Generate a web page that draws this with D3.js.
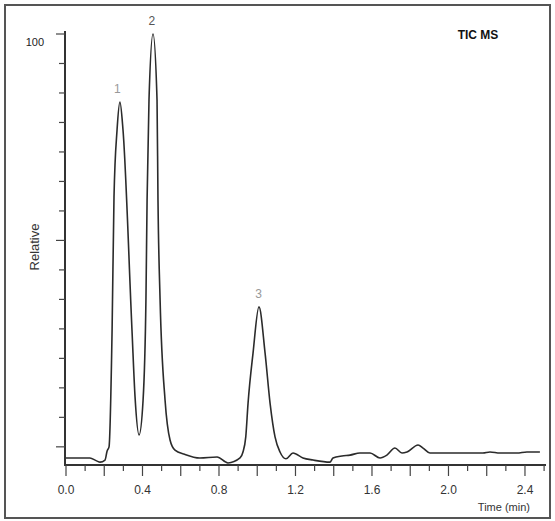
<!DOCTYPE html>
<html>
<head>
<meta charset="utf-8">
<script src="https://cdn.jsdelivr.net/npm/d3@7"></script>
<style>
body{margin:0;background:#fff;}
text{font-family:"Liberation Sans",Arial,sans-serif;fill:#333;}
</style>
</head>
<body>
<div class="chart"></div>
<script>
// retention time (min)
var times=[0.00,0.06,0.125,0.16,0.178,0.204,0.215,0.225,0.241,0.251,0.267,0.282,0.298,0.345,0.361,0.382,
	0.403,0.418,0.424,0.434,0.455,0.476,0.481,0.492,0.518,0.544,0.57,0.62,0.70,0.79,0.847,0.91,0.925,0.94,
	0.952,0.978,1.009,1.041,1.067,1.093,1.119,1.15,1.187,1.239,1.292,1.38,1.396,1.443,1.485,1.537,
	1.59,1.642,1.678,1.72,1.757,1.783,1.841,1.867,1.903,1.971,2.18,2.217,2.269,2.358,2.41,2.478];
// relative abundance (%)
var intensity=[-2.7,-2.7,-2.7,-3.4,-3.7,-3.2,-1.0,0.0,28.3,60.5,76.8,83.5,76.8,28.3,12.1,2.9,
	11.3,35.6,59.8,84.0,100,84.0,59.8,35.6,11.3,1.66,-0.8,-1.8,-2.7,-2.46,-3.9,-2.7,-1.3,2.4,
	10.6,22.7,33.9,22.7,10.6,2.4,-1.25,-2.9,-1.5,-2.7,-3.2,-3.7,-2.7,-2.2,-2.0,-1.5,
	-1.5,-2.7,-2.0,-0.3,-1.5,-1.25,0.45,-0.3,-1.5,-1.5,-1.5,-1.25,-1.5,-1.5,-1.25,-1.25];
var peakNames=["1","2","3"];
var peakTimes=[0.268,0.449,1.007];
var peakTops=[83.5,100,33.9];
var xLabelTicks=[0.0,0.4,0.8,1.2,1.6,2.0,2.4];

var width=555,height=521;
var svg=d3.select('div.chart')
		.append('svg')
		.attr('width',width)
		.attr('height',height);

//外框
svg.append('rect')
	.attr('x',5).attr('y',5)
	.attr('width',545).attr('height',513)
	.attr('fill','none')
	.attr('stroke','#555')
	.attr('stroke-width',2);

var x=d3.scaleLinear().domain([0,2.5]).range([66,544.1]);
var y=d3.scaleLinear().domain([-4.4,100]).range([465,34]);

//x轴
var xMinor=d3.range(0,26).map(function(i){return i/10;});
svg.append('line')
	.attr('x1',64).attr('x2',546)
	.attr('y1',465).attr('y2',465)
	.attr('stroke','#333').attr('stroke-width',2);
svg.selectAll('line.xt')
	.data(xMinor)
	.enter()
	.append('line')
	.attr('class','xt')
	.attr('x1',function(d){return x(d);})
	.attr('x2',function(d){return x(d);})
	.attr('y1',465)
	.attr('y2',function(d,i){return i%2==0?476:471;})
	.attr('stroke','#444').attr('stroke-width',1.2);
svg.selectAll('text.xl')
	.data(xLabelTicks)
	.enter()
	.append('text')
	.attr('class','xl')
	.attr('x',function(d){return x(d);})
	.attr('y',494)
	.attr('text-anchor','middle')
	.style('font-size','12px')
	.text(function(d){return d.toFixed(1);});
svg.append('text')
	.attr('x',530).attr('y',511)
	.attr('text-anchor','end')
	.style('font-size','11px')
	.text('Time (min)');

//y轴
var yTicks=d3.range(0,15).map(function(k){return k*100/14;});
svg.append('line')
	.attr('x1',65).attr('x2',65)
	.attr('y1',31).attr('y2',466)
	.attr('stroke','#333').attr('stroke-width',2);
svg.selectAll('line.yt')
	.data(yTicks)
	.enter()
	.append('line')
	.attr('class','yt')
	.attr('x1',65)
	.attr('x2',function(d,i){return i%7==0?56:59;})
	.attr('y1',function(d){return y(d);})
	.attr('y2',function(d){return y(d);})
	.attr('stroke','#444').attr('stroke-width',1.2);
svg.append('text')
	.attr('x',44).attr('y',46)
	.attr('text-anchor','end')
	.style('font-size','11px')
	.style('fill','#222')
	.text('100');
svg.append('text')
	.attr('transform','translate(39,247) rotate(-90)')
	.attr('text-anchor','middle')
	.style('font-size','13px')
	.text('Relative');

//曲线
var pts=times.map(function(t,i){return [t,intensity[i]];});
var line=d3.line()
		.x(function(d){return x(d[0]);})
		.y(function(d){return y(d[1]);})
		.curve(d3.curveMonotoneX);
svg.append('path')
	.datum(pts)
	.attr('d',line)
	.attr('fill','none')
	.attr('stroke','#2b2b2b')
	.attr('stroke-width',1.6);

//峰标记
svg.selectAll('text.pk')
	.data(peakNames)
	.enter()
	.append('text')
	.attr('class','pk')
	.attr('x',function(d,i){return x(peakTimes[i]);})
	.attr('y',function(d,i){return y(peakTops[i])-9;})
	.attr('text-anchor','middle')
	.style('font-size','12px')
	.style('fill',function(d,i){return i==1?'#555':'#999';})
	.text(function(d){return d;});

svg.append('text')
	.attr('x',478).attr('y',39)
	.attr('text-anchor','middle')
	.style('font-size','12px')
	.style('font-weight','bold')
	.style('fill','#111')
	.text('TIC  MS');
</script>
</body>
</html>
